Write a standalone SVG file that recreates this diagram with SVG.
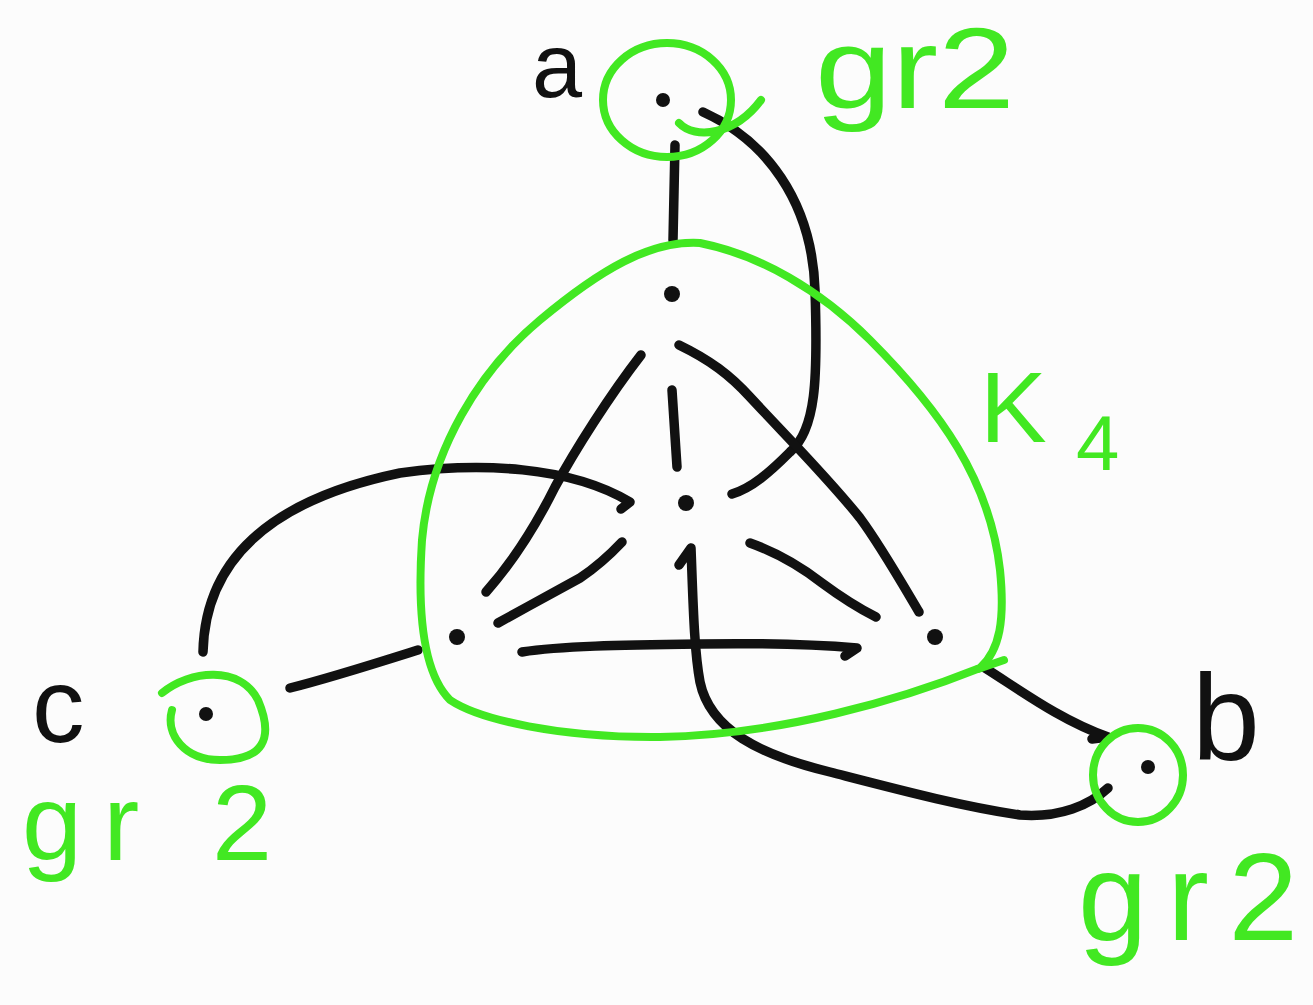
<svg xmlns="http://www.w3.org/2000/svg" width="1313" height="1005" viewBox="0 0 1313 1005">
<style>
.bg{fill:#fcfcfc}
.ink{fill:none;stroke:#111;stroke-width:9.5;stroke-linecap:round;stroke-linejoin:round}
.grn{fill:none;stroke:#42e822;stroke-width:8;stroke-linecap:round;stroke-linejoin:round}
.dot{fill:#111}
.lbl{font-family:"Liberation Sans","DejaVu Sans",sans-serif;fill:#111}
.glbl{font-family:"Liberation Sans","DejaVu Sans",sans-serif;fill:#42e822}
</style>
<rect class="bg" x="0" y="0" width="1313" height="1005"/>
<g id="connectors">
  <path class="ink" d="M675,145 L673,240"/>
  <path class="ink" d="M703,112 C765,140 812,200 815,290 C818,380 816,430 790,452 C770,472 752,488 732,494"/>
  <path class="ink" d="M641,355 C610,395 575,450 555,487 C535,527 510,565 486,592"/>
  <path class="ink" d="M679,345 C710,360 730,375 750,397 C790,440 830,480 860,518 C880,545 900,580 919,612"/>
  <path class="ink" d="M672,390 L677,467"/>
  <path class="ink" d="M522,652 C560,646 620,645 700,644 C760,643 820,645 857,648 L845,656"/>
  <path class="ink" d="M622,542 C605,560 595,568 580,578 C555,592 525,608 498,623"/>
  <path class="ink" d="M750,543 C775,552 800,566 822,583 C845,600 862,610 876,617"/>
  <path class="ink" d="M679,565 L691,548 C693,600 694,650 700,682 C710,730 760,755 830,772 C900,790 960,806 1020,815 C1060,818 1090,805 1108,788"/>
  <path class="ink" d="M203,652 C205,560 270,500 400,473 C480,462 570,466 630,502 L621,509"/>
  <path class="ink" d="M290,688 C330,678 380,662 418,650"/>
  <path class="ink" d="M985,668 C1020,690 1060,720 1108,737 L1092,739"/>
</g>
<g id="node-k4">
  <path class="grn" d="M700,243 C760,255 820,290 870,340 C940,410 990,480 1000,570 C1005,620 1000,650 980,668 C900,700 780,735 660,737 C560,738 480,720 450,700 C420,670 418,600 422,540 C430,450 480,370 540,320 C600,270 650,240 700,243 Z"/>
  <path class="grn" d="M978,669 L1004,660"/>
  <circle class="dot" cx="672" cy="294" r="8"/>
  <circle class="dot" cx="686" cy="503" r="8"/>
  <circle class="dot" cx="457" cy="637" r="8"/>
  <circle class="dot" cx="935" cy="637" r="8"/>
  <text class="glbl" x="980" y="442" font-size="100">K</text>
  <text class="glbl" x="1076" y="470" font-size="78">4</text>
</g>
<g id="node-a">
  <ellipse class="grn" cx="667" cy="100" rx="64" ry="57"/>
  <path class="grn" d="M679,123 C695,140 735,135 761,100"/>
  <circle class="dot" cx="663" cy="100" r="7"/>
  <text class="lbl" x="532" y="97" font-size="90">a</text>
  <text class="glbl" x="815" y="108" font-size="115" textLength="200" lengthAdjust="spacingAndGlyphs">gr2</text>
</g>
<g id="node-c">
  <path class="grn" d="M162,693 C190,670 240,665 258,700 C275,740 262,760 220,760 C185,760 165,735 172,710"/>
  <circle class="dot" cx="206" cy="714" r="7"/>
  <text class="lbl" x="32" y="742" font-size="105">c</text>
  <text class="glbl" x="22" y="860" font-size="108" textLength="250" lengthAdjust="spacing">gr 2</text>
</g>
<g id="node-b">
  <ellipse class="grn" cx="1138" cy="775" rx="45" ry="47"/>
  <circle class="dot" cx="1148" cy="767" r="7"/>
  <text class="lbl" x="1192" y="760" font-size="122">b</text>
  <text class="glbl" x="1078" y="940" font-size="125" textLength="220" lengthAdjust="spacing">gr2</text>
</g>
</svg>
